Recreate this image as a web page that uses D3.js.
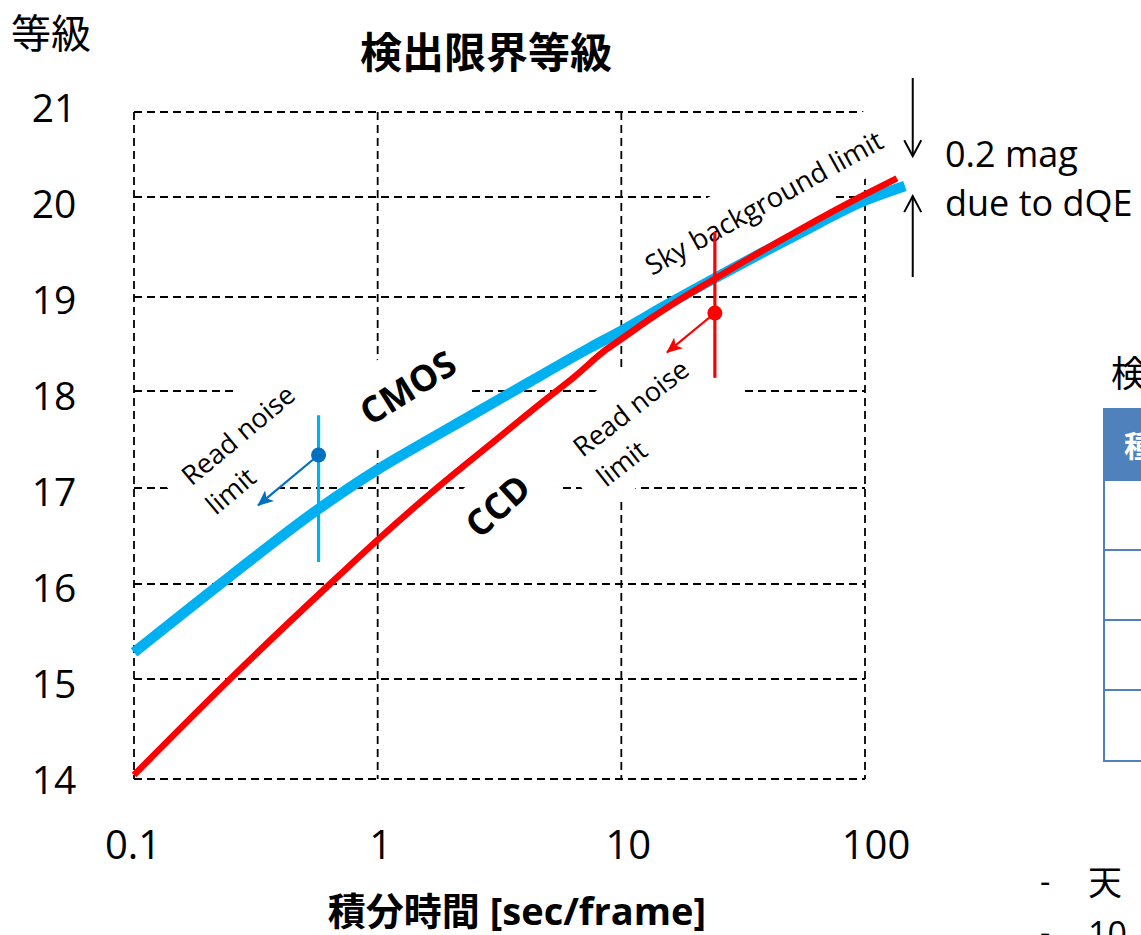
<!DOCTYPE html>
<html><head><meta charset="utf-8">
<script src="https://cdn.jsdelivr.net/npm/d3@7"></script>
<style>body{margin:0;background:#fff;overflow:hidden} svg{display:block}</style>
</head><body>
<svg id="c" width="1141" height="935"></svg>
<script>
// ---- data ----
const ccdTimes  = [0.1, 0.248, 0.637, 1.0, 1.751, 3.088, 4.634, 6.33, 8.73, 10, 13.1, 16.28, 24.7, 28.7, 54.1, 100, 135.2];
const ccdMags   = [14.04, 15.00, 16.00, 16.46, 17.00, 17.505, 17.866, 18.138, 18.447, 18.553, 18.766, 18.926, 19.195, 19.29, 19.675, 20.03, 20.22];
const cmosTimes = [0.1, 0.248, 0.5637, 1.0, 1.639, 2.63, 4.22, 7.43, 10, 15.4, 24.7, 54.1, 100, 145.8];
const cmosMags  = [15.28, 16.08, 16.77, 17.19, 17.505, 17.80, 18.10, 18.46, 18.64, 18.92, 19.20, 19.64, 19.965, 20.13];
const xTicks = [0.1, 1, 10, 100];
const xTickLabels = ["0.1", "1", "10", "100"];
const yTicks = [14, 15, 16, 17, 18, 19, 20, 21];
const yTickLabels = ["14", "15", "16", "17", "18", "19", "20", "21"];
// read-noise limit markers: [CMOS, CCD]
const markerTimes = [0.572, 24.2];
const markerMags  = [17.34, 18.83];
const markerLo    = [16.23, 18.14];
const markerHi    = [17.75, 19.65];
const arrowTipTimes = [0.323, 15.4];
const arrowTipMags  = [16.82, 18.41];
// dQE arrows
const dqeTime = 157;
const dqeDown = [21.4, 20.48];
const dqeUp   = [19.2, 20.01];

const LAT = "'Open Sans','Noto Sans CJK JP',sans-serif";
const svg = d3.select("#c");

// hand-drawn grid positions of the original (slightly uneven)
const x = d3.scaleLog().domain([0.1, 100]).range([134, 865]);
const y = d3.scaleLinear().domain(yTicks).range([779, 679, 584, 488, 391, 297, 197, 112]);
const xLab = d3.scaleLog().domain([0.1, 100]).range([133, 876]);
const yLab = d3.scaleLinear().domain([14, 21]).range([780, 108]);

// gridlines
const grid = svg.append("g").attr("stroke", "#000").attr("stroke-width", 1.8).attr("stroke-dasharray", "8,5").attr("fill", "none");
grid.selectAll("line.h").data(yTicks).join("line").attr("class", "h")
  .attr("x1", x(0.1)).attr("x2", x(100)).attr("y1", d => y(d)).attr("y2", d => y(d));
grid.selectAll("line.v").data(xTicks).join("line").attr("class", "v")
  .attr("x1", d => x(d)).attr("x2", d => x(d)).attr("y1", y(21)).attr("y2", y(14));

// annotations (text boxes with white fill)
const annos = [
  {lines: ["Read noise", "limit"], cx: 242, cy: 432, ang: -40, size: 27, weight: 400, align: "start", lx: -74, box: [-93, 95, -35, 66]},
  {lines: ["Read noise", "limit"], cx: 635, cy: 405, ang: -38, size: 27, weight: 400, align: "start", lx: -74, box: [-93, 95, -35, 66]},
  {lines: ["CMOS"], cx: 408, cy: 388, ang: -32, size: 36, weight: 700, align: "middle", lx: 0, box: [-75, 75, -40, 36]},
  {lines: ["CCD"], cx: 498, cy: 506, ang: -42, size: 36, weight: 700, align: "middle", lx: 0, box: [-57, 57, -36, 36]},
  {lines: ["Sky background limit"], cx: 764, cy: 203, ang: -29, size: 27.5, weight: 400, align: "middle", lx: 0, box: [-138, 140, -32, 28]}
];
const ag = svg.selectAll("g.anno").data(annos).join("g").attr("class", "anno")
  .attr("transform", d => `translate(${d.cx},${d.cy}) rotate(${d.ang})`);
ag.append("rect").attr("x", d => d.box[0]).attr("y", d => d.box[2])
  .attr("width", d => d.box[1] - d.box[0]).attr("height", d => d.box[3] - d.box[2]).attr("fill", "#fff");

// curves
const line = d3.line().x(d => x(d[0])).y(d => y(d[1])).curve(d3.curveMonotoneX);
svg.append("path").datum(d3.zip(cmosTimes, cmosMags)).attr("d", line)
  .attr("fill", "none").attr("stroke", "#00B0F0").attr("stroke-width", 10.5);
svg.append("path").datum(d3.zip(ccdTimes, ccdMags)).attr("d", line)
  .attr("fill", "none").attr("stroke", "#FF0000").attr("stroke-width", 6.5);

// markers
const mColors = ["#0070C0", "#FF0000"];
const vColors = ["#00B0F0", "#FF0000"];
const defs = svg.append("defs");
mColors.forEach((c, i) => {
  defs.append("marker").attr("id", "ah" + i).attr("viewBox", "0 0 16 14").attr("refX", 15).attr("refY", 7)
    .attr("markerWidth", 16).attr("markerHeight", 14).attr("markerUnits", "userSpaceOnUse").attr("orient", "auto")
    .append("path").attr("d", "M0,0 L16,7 L0,14 L4,7 Z").attr("fill", c);
});
markerTimes.forEach((t, i) => {
  svg.append("line").attr("x1", x(t)).attr("x2", x(t)).attr("y1", y(markerHi[i])).attr("y2", y(markerLo[i]))
    .attr("stroke", vColors[i]).attr("stroke-width", 3.2);
  svg.append("line").attr("x1", x(t)).attr("y1", y(markerMags[i]))
    .attr("x2", x(arrowTipTimes[i])).attr("y2", y(arrowTipMags[i]))
    .attr("stroke", mColors[i]).attr("stroke-width", 2.2).attr("marker-end", `url(#ah${i})`);
  svg.append("circle").attr("cx", x(t)).attr("cy", y(markerMags[i])).attr("r", 7.5).attr("fill", mColors[i]);
});

// annotation texts
ag.each(function(d) {
  const g = d3.select(this);
  d.lines.forEach((s, k) => {
    g.append("text").attr("x", d.lx).attr("y", k * 38).attr("dy", "0.35em")
      .attr("text-anchor", d.align).attr("font-family", LAT).attr("font-size", d.size)
      .attr("font-weight", d.weight).attr("fill", "#000").text(s);
  });
});

// dQE arrows
function chevArrow(x0, y0, y1) {
  svg.append("line").attr("x1", x0).attr("x2", x0).attr("y1", y0).attr("y2", y1).attr("stroke", "#000").attr("stroke-width", 2);
  const dir = y1 > y0 ? -1 : 1;
  svg.append("polyline").attr("points", `${x0 - 8.5},${y1 + dir * 16} ${x0},${y1} ${x0 + 8.5},${y1 + dir * 16}`)
    .attr("fill", "none").attr("stroke", "#000").attr("stroke-width", 2);
}
chevArrow(x(dqeTime), y(dqeDown[0]), y(dqeDown[1]));
chevArrow(x(dqeTime), y(dqeUp[0]), y(dqeUp[1]));
svg.append("text").attr("x", 945).attr("y", 167).attr("font-family", LAT).attr("font-size", 36).text("0.2 mag");
svg.append("text").attr("x", 945).attr("y", 216).attr("font-family", LAT).attr("font-size", 36).text("due to dQE");

// tick labels
svg.selectAll("text.yt").data(yTicks).join("text").attr("class", "yt")
  .attr("x", 54).attr("y", d => yLab(d)).attr("dy", "0.36em").attr("text-anchor", "middle")
  .attr("font-family", LAT).attr("font-size", 39).text((d, i) => yTickLabels[i]);
svg.selectAll("text.xt").data(xTicks).join("text").attr("class", "xt")
  .attr("x", d => xLab(d)).attr("y", 845).attr("dy", "0.36em").attr("text-anchor", "middle")
  .attr("font-family", LAT).attr("font-size", 40).text((d, i) => xTickLabels[i]);

// titles
svg.append("text").attr("x", 11).attr("y", 48).attr("font-family", LAT).attr("font-size", 40).text("等級");
svg.append("text").attr("x", 486).attr("y", 68).attr("text-anchor", "middle").attr("font-family", LAT)
  .attr("font-size", 42).attr("font-weight", 700).text("検出限界等級");
svg.append("text").attr("x", 517).attr("y", 925).attr("text-anchor", "middle").attr("font-family", LAT)
  .attr("font-size", 38).attr("font-weight", 700).text("積分時間 [sec/frame]");

// right-side slide fragments (table, notes)
svg.append("text").attr("x", 1111).attr("y", 387).attr("font-family", LAT).attr("font-size", 36).text("検出限界");
svg.append("rect").attr("x", 1103).attr("y", 408).attr("width", 60).attr("height", 73).attr("fill", "#4F81BD");
svg.append("text").attr("x", 1124).attr("y", 457).attr("font-family", LAT).attr("font-size", 30).attr("font-weight", 700).attr("fill", "#fff").text("種類");
const tbl = svg.append("g").attr("stroke", "#4F81BD").attr("stroke-width", 2);
tbl.append("line").attr("x1", 1104).attr("x2", 1104).attr("y1", 408).attr("y2", 762);
[550, 620, 690, 761].forEach(v => tbl.append("line").attr("x1", 1103).attr("x2", 1141).attr("y1", v).attr("y2", v));
svg.append("text").attr("x", 1040).attr("y", 893).attr("font-family", LAT).attr("font-size", 32).text("-");
svg.append("text").attr("x", 1088).attr("y", 895).attr("font-family", LAT).attr("font-size", 34).text("天");
svg.append("text").attr("x", 1040).attr("y", 944).attr("font-family", LAT).attr("font-size", 32).text("-");
svg.append("text").attr("x", 1088).attr("y", 946).attr("font-family", LAT).attr("font-size", 34).text("10");
</script>
</body></html>
